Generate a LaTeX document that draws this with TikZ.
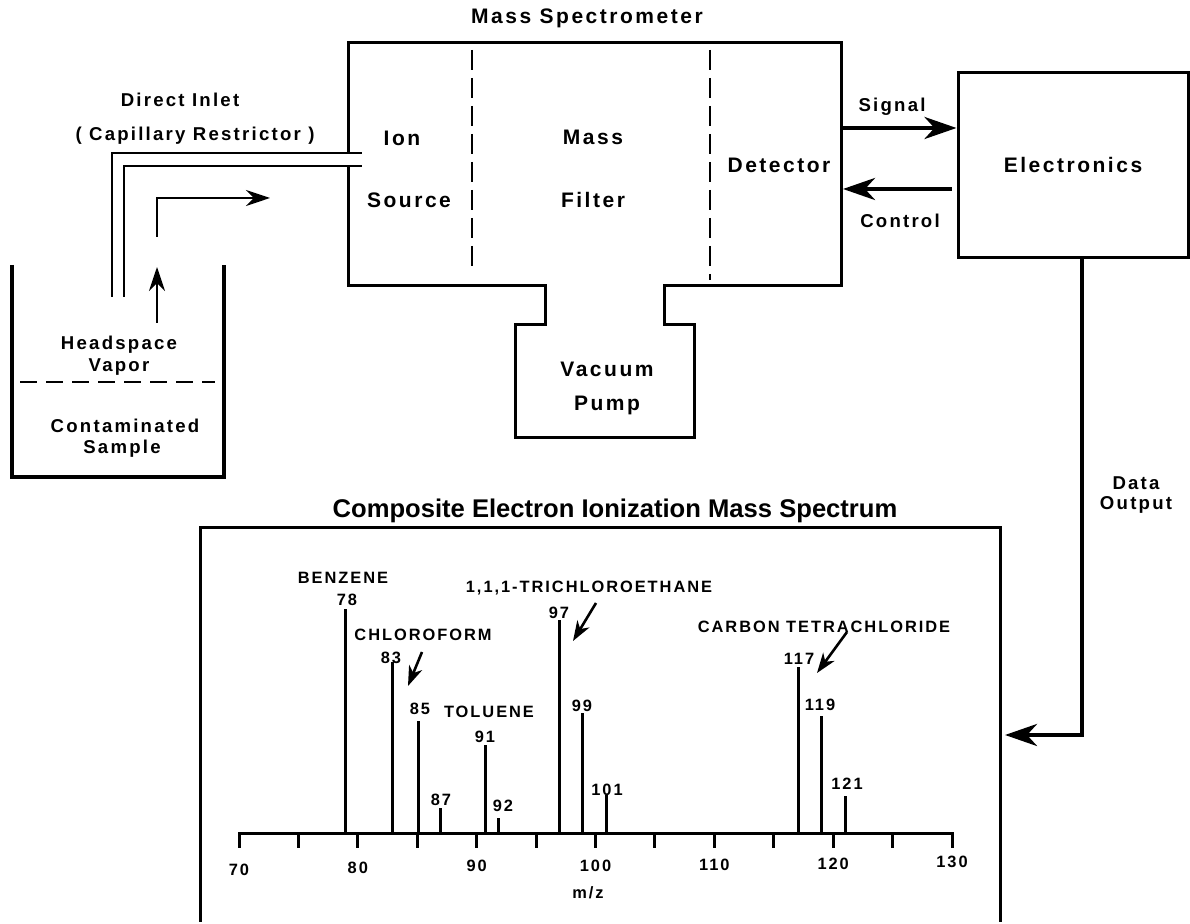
\documentclass[tikz,border=0pt]{standalone}
\usepackage{fontspec}
\setmainfont{Liberation Sans}[LetterSpace=12]
\newfontfamily\plainsans{Liberation Sans}
\usepackage{tikz}
\usetikzlibrary{arrows.meta,positioning}

\begin{document}
\begin{tikzpicture}[
    x=0.5pt, y=-0.5pt,
    biglbl/.style={font=\fontsize{10.5}{12}\selectfont\bfseries, align=center},
    midlbl/.style={font=\fontsize{9.3}{11}\selectfont\bfseries, align=center},
    pklbl/.style={font=\fontsize{8.2}{10}\selectfont\bfseries, inner sep=0pt},
    wall/.style={line width=1.5pt, line join=miter},
    divider/.style={line width=1pt, dash pattern=on 10pt off 4pt},
    bigarrow/.style={line width=2.2pt, -{Stealth[length=16pt, width=11pt, inset=5pt]}},
    flowarrow/.style={line width=1pt, -{Stealth[length=12pt, width=8pt, inset=4pt]}},
    pkarrow/.style={line width=1.3pt, -{Stealth[length=10pt, width=7pt, inset=3pt]}},
]
\useasboundingbox (0,0) rectangle (1190,924);

% mass spectrometer housing with vacuum pump
\draw[wall] (348,153) -- (348,43) -- (841,43) -- (841,286) -- (664,286)
    -- (664,325) -- (694,325) -- (694,438) -- (515,438) -- (515,325)
    -- (545,325) -- (545,286) -- (348,286) -- (348,166);
\draw[divider] (472,50) -- (472,273);
\draw[divider] (710,50) -- (710,280);

\node[biglbl] (title) at (587,18) {Mass Spectrometer};
\node[biglbl] (ion) at (402,138) {Ion};
\node[biglbl] (source) at (409,200) {Source};
\node[biglbl] (mass) at (593,137) {Mass};
\node[biglbl] (filter) at (593,200) {Filter};
\node[biglbl] (detector) at (779,165) {Detector};
\node[biglbl] (vacuum) at (607,369) {Vacuum};
\node[biglbl] (pump) at (607,405) {Pump};

% capillary inlet and sample vial
\draw[line width=1.3pt] (112,297) -- (112,153) -- (362,153);
\draw[line width=1.3pt] (124,297) -- (124,166) -- (362,166);
\node[midlbl] (inlet) at (180,100) {Direct Inlet};
\node[midlbl] (restrictor) at (195,136) {( Capillary Restrictor )};

\coordinate (flowA) at (157,237);
\coordinate (flowB) at (270,198);
\draw[flowarrow] (flowA) |- (flowB);
\coordinate (vapA) at (157,323);
\coordinate (vapB) at (157,267);
\draw[flowarrow] (vapA) -- (vapB);

\draw[line width=2pt] (12,265) -- (12,477) -- (224,477) -- (224,265);
\draw[line width=1pt, dash pattern=on 8.5pt off 4.5pt] (20,382) -- (215,382);
\node[midlbl] (headspace) at (119,345) {Headspace};
\node[midlbl] (vapor) at (119,367) {Vapor};
\node[midlbl] (contam) at (125,426) {Contaminated};
\node[midlbl] (sample) at (122,449) {Sample};

% electronics and signal paths
\node[draw, line width=1.5pt, minimum width=115pt, minimum height=92.5pt,
      biglbl] (elec) at (1073,165.5) {Electronics};
\coordinate (sig) at (841,128);
\draw[bigarrow] (sig) -- (sig -| elec.west);
\coordinate (ctl) at (843,189);
\draw[bigarrow] ([xshift=-2.5pt]ctl -| elec.west) -- (ctl);
\node[midlbl] (signal) at (892,107) {Signal};
\node[midlbl] (control) at (900,221) {Control};

\coordinate (dataIn) at (1005,735);
\draw[bigarrow] (elec.south -| 1082,0) -- (1082,735) -- (dataIn);
\node[midlbl] (data) at (1136,495) {Data\\[-1pt]Output};

% spectrum panel
\node[font=\plainsans\fontsize{12.8}{14}\selectfont\bfseries]
    (spectitle) at (615,511) {Composite Electron Ionization Mass Spectrum};
\draw[wall] (200,922) -- (200,528) -- (1000,528) -- (1000,922);

\draw[line width=1.5pt] (239,848) -- (239,834) -- (952,834) -- (952,848);
\foreach \m in {75,80,...,125}
    \draw[line width=1.5pt] ({239+(\m-70)*11.883},834) -- ++(0,14);
\foreach \m/\ly in {70/870,80/868,90/866,100/866,110/865,120/864,130/862}
    \node[pklbl] (ax\m) at ({239+(\m-70)*11.883},\ly) {\m};
\node[pklbl] (mz) at (588,893) {m/z};

% peaks: x / top / label x / label y / m
\foreach \x/\t/\lx/\ly/\m in {345/609/347/600/78, 392/662/391/658/83,
        418/721/420/709/85, 440/808/441/800/87, 485/745/485/737/91,
        498/818/503/806/92, 559/620/559/613/97, 582/713/582/706/99,
        606/795/607/790/101, 798/667/799/659/117, 821/716/820/705/119,
        845/796/847/784/121}{
    \draw[line width=1.5pt] (\x,834) -- (\x,\t);
    \node[pklbl] (pk\m) at (\lx,\ly) {\m};
}

\node[pklbl] (benzene) at (343,578) {BENZENE};
\node[pklbl] (chcl3) at (423,635) {CHLOROFORM};
\node[pklbl] (toluene) at (489,712) {TOLUENE};
\node[pklbl] (tca) at (589,588) {1,1,1-TRICHLOROETHANE};
\node[pklbl] (ccl4) at (824,627) {CARBON TETRACHLORIDE};

\coordinate (chclA) at (422,652);
\coordinate (chclB) at (408,686);
\draw[pkarrow] (chclA) -- (chclB);
\coordinate (tcaA) at (596,603);
\coordinate (tcaB) at (573,641);
\draw[pkarrow] (tcaA) -- (tcaB);
\coordinate (cclA) at (847,632);
\coordinate (cclB) at (817,673);
\draw[pkarrow] (cclA) -- (cclB);

\end{tikzpicture}
\end{document}
